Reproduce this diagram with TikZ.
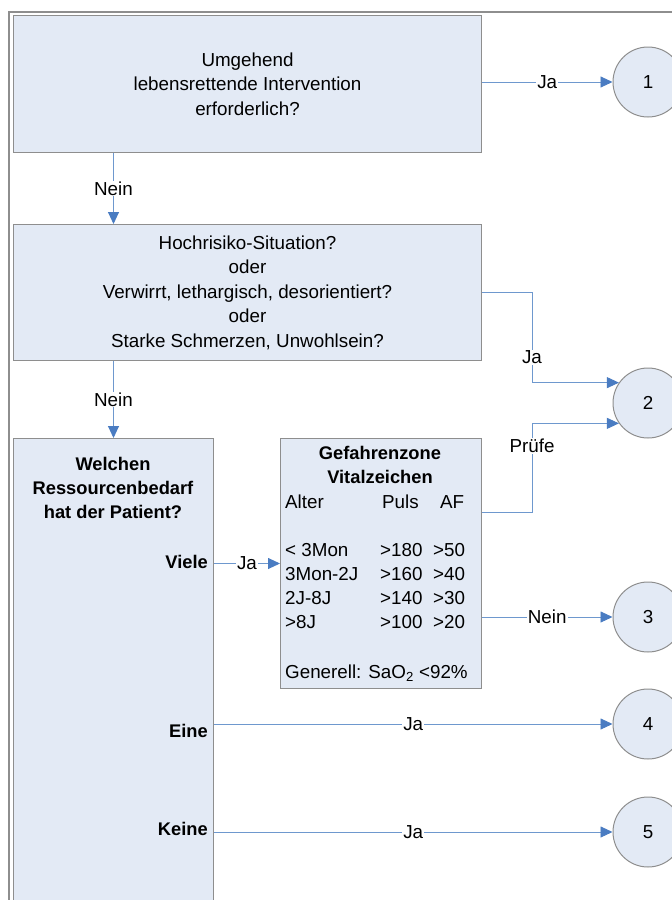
\documentclass[tikz,border=0pt]{standalone}
\usepackage{fontspec}
\setmainfont{Liberation Sans}
\usetikzlibrary{arrows.meta,positioning,calc}

\definecolor{boxblue}{HTML}{E3EAF5}
\definecolor{rand}{HTML}{8E8E8E}
\definecolor{linie}{HTML}{6E98CE}
\definecolor{spitze}{HTML}{4A7CC2}

\begin{document}
\begin{tikzpicture}[x=1pt, y=-1pt,
  font=\fontsize{18.8}{24.5}\selectfont,
  box/.style={draw=rand, fill=boxblue, line width=1pt, align=center, inner sep=0pt},
  stufe/.style={draw=rand, fill=boxblue, line width=1pt, shape=circle, minimum size=70pt, inner sep=0pt},
  fett/.style={font=\fontsize{18.3}{24}\selectfont\bfseries, align=center, inner sep=1pt},
  zelle/.style={anchor=west, inner sep=0pt},
  lab/.style={fill=white, inner sep=1pt},
  pfeil/.style={draw=linie, line width=0.9pt, -{Triangle[length=12pt, width=11pt, fill=spitze, color=spitze]}},
  rahmen/.style={draw=rand, line width=1.5pt}
]
\useasboundingbox (0,0) rectangle (672,900);

\draw[rahmen] (9,900) |- (672,12);

% Fragen
\node[box, minimum width=468pt, minimum height=137pt, anchor=north west] (frage1) at (13,15)
  {Umgehend\\lebensrettende Intervention\\erforderlich?};
\node[box, minimum width=468pt, minimum height=136pt, anchor=north west] (frage2) at (13,224)
  {Hochrisiko-Situation?\\oder\\Verwirrt, lethargisch, desorientiert?\\oder\\Starke Schmerzen, Unwohlsein?};
\node[box, minimum width=200pt, minimum height=480pt, anchor=north west] (bedarf) at (13,438) {};
\node[fett] (frage3) at (113,488) {Welchen\\Ressourcenbedarf\\hat der Patient?};
\node[fett, anchor=east] (viele) at (209,562) {Viele};
\node[fett, anchor=east] (eine) at (209,731) {Eine};
\node[fett, anchor=east] (keine) at (209,829) {Keine};

% Vitalzeichen
\node[box, minimum width=201pt, minimum height=250pt, anchor=north west] (vital) at (280,438) {};
\node[fett] (titel) at (380,465) {Gefahrenzone\\Vitalzeichen};
\node[zelle] (alter) at (285,502) {Alter};
\node[zelle] (puls) at (382,502) {Puls};
\node[zelle] (af) at (440,502) {AF};
\foreach \a/\p/\f [count=\i from 0] in {{< 3Mon}/>180/>50, {3Mon-2J}/>160/>40, {2J-8J}/>140/>30, {>8J}/>100/>20}{
  \node[zelle] at (285,550+24*\i) {\a};
  \node[zelle] at (380,550+24*\i) {\p};
  \node[zelle] at (433,550+24*\i) {\f};
}
\node[zelle] (sao) at (285,673) {Generell: SaO\textsubscript{2} <92\%};

% Stufen
\node[stufe] (esi1) at (648,82) {1};
\node[stufe] (esi2) at (648,403) {2};
\node[stufe] (esi3) at (648,617) {3};
\node[stufe] (esi4) at (648,724) {4};
\node[stufe] (esi5) at (648,832) {5};

% Verbindungen
\draw[pfeil] (frage1.east |- esi1) -- node[lab]{Ja} (esi1);
\draw[pfeil] (frage1.south -| bedarf) -- node[lab]{Nein} (frage2.north -| bedarf);
\draw[pfeil] (frage2.east) -- ++(50,0) |- node[lab, pos=0.36]{Ja} (esi2.145);
\draw[pfeil] (frage2.south -| bedarf) -- node[lab]{Nein} (bedarf.north);
\draw[pfeil] ([yshift=51pt]vital.east) -- ++(50,0) |- node[lab, pos=0.375]{Prüfe} (esi2.215);
\draw[pfeil] (bedarf.east |- vital) -- node[lab]{Ja} (vital.west);
\draw[pfeil] (vital.east |- esi3) -- node[lab]{Nein} (esi3);
\draw[pfeil] (bedarf.east |- esi4) -- node[lab]{Ja} (esi4);
\draw[pfeil] (bedarf.east |- esi5) -- node[lab]{Ja} (esi5);

\end{tikzpicture}
\end{document}
